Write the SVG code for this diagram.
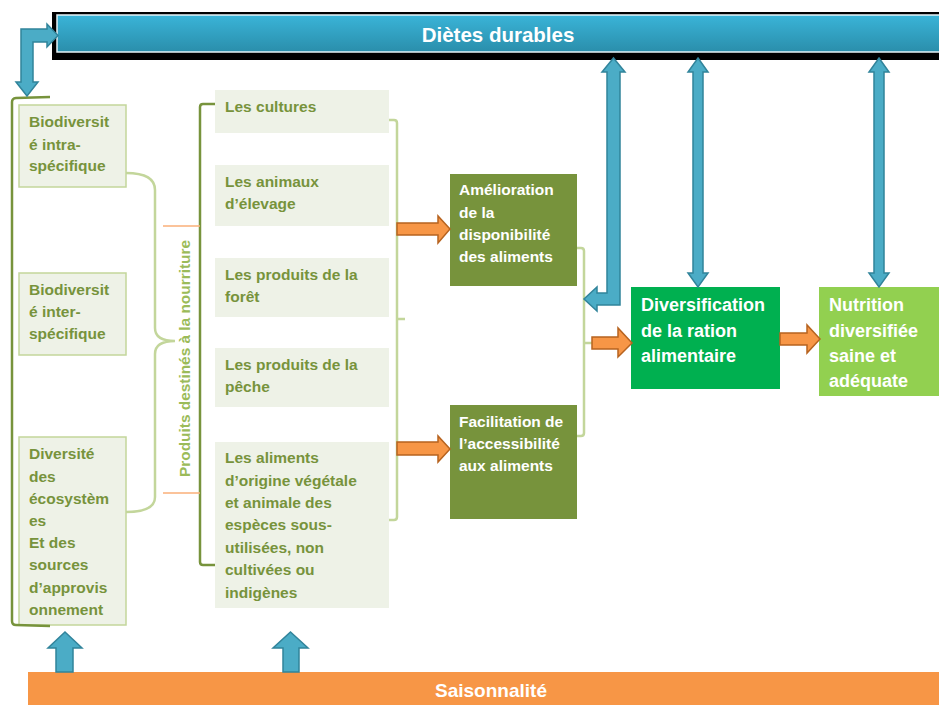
<svg xmlns="http://www.w3.org/2000/svg" width="939" height="705" viewBox="0 0 939 705">
<defs>
<linearGradient id="gBlue" x1="0" y1="0" x2="0" y2="1">
<stop offset="0" stop-color="#3AB4D8"/>
<stop offset="1" stop-color="#2A8EAB"/>
</linearGradient>
<style>
text{font-family:"Liberation Sans",Arial,sans-serif;font-weight:bold}
.gt{fill:#77933C;font-size:15.5px}
.wt{fill:#FFFFFF;font-size:15.5px}
.wl{fill:#FFFFFF;font-size:18px}
.lbox{fill:#EEF2E7;stroke:#C3D69B;stroke-width:1.5}
.mbox{fill:#EEF2E7}
.dbox{fill:#77933C}
.barrow{fill:#4BACC6;stroke:#31849B;stroke-width:1.5;stroke-linejoin:miter}
.oarrow{fill:#F79646;stroke:#B7631F;stroke-width:1.5;stroke-linejoin:miter}
.dbr{fill:none;stroke:#77933C;stroke-width:2.5}
.lbr{fill:none;stroke:#C3D69B;stroke-width:2.5}
.oline{fill:none;stroke:#FAB07A;stroke-width:1.5}
</style>
</defs>
<rect width="939" height="705" fill="#FFFFFF"/>

<g id="dietes">
<rect x="52" y="12" width="892" height="48" fill="#000000"/>
<rect x="57" y="15" width="886" height="37" fill="url(#gBlue)" stroke="#E6F3F7" stroke-width="1.5"/>
<text x="498" y="42" text-anchor="middle" style="fill:#FFFFFF;font-size:20.5px">Diètes durables</text>
</g>

<g id="saisonnalite">
<rect x="28" y="672" width="915" height="36" fill="#F79646"/>
<text x="491" y="697" text-anchor="middle" style="fill:#FFFFFF;font-size:19px">Saisonnalité</text>
</g>

<g id="bio-intra">
<rect class="lbox" x="19" y="105" width="107" height="82"/>
<text class="gt" x="29" y="127">Biodiversit</text>
<text class="gt" x="29" y="149.5">é intra-</text>
<text class="gt" x="29" y="171">spécifique</text>
</g>
<g id="bio-inter">
<rect class="lbox" x="19" y="273" width="107" height="82"/>
<text class="gt" x="29" y="294.5">Biodiversit</text>
<text class="gt" x="29" y="317">é inter-</text>
<text class="gt" x="29" y="339">spécifique</text>
</g>
<g id="diversite-eco">
<rect class="lbox" x="19" y="437" width="107" height="188"/>
<text class="gt" x="29" y="459">Diversité</text>
<text class="gt" x="29" y="481.5">des</text>
<text class="gt" x="29" y="503.5">écosystèm</text>
<text class="gt" x="29" y="525.5">es</text>
<text class="gt" x="29" y="548">Et des</text>
<text class="gt" x="29" y="570">sources</text>
<text class="gt" x="29" y="592.5">d’approvis</text>
<text class="gt" x="29" y="615">onnement</text>
</g>

<g id="produits-label">
<text transform="translate(190,358.5) rotate(-90)" text-anchor="middle" textLength="237" lengthAdjust="spacingAndGlyphs" style="fill:#9BBB59;font-size:15px">Produits destinés à la nourriture</text>
</g>

<g id="cultures">
<rect class="mbox" x="215" y="90" width="174" height="43"/>
<text class="gt" x="225" y="112">Les cultures</text>
</g>
<g id="animaux">
<rect class="mbox" x="215" y="165" width="174" height="61"/>
<text class="gt" x="225" y="187">Les animaux</text>
<text class="gt" x="225" y="209">d’élevage</text>
</g>
<g id="foret">
<rect class="mbox" x="215" y="258" width="174" height="59"/>
<text class="gt" x="225" y="279.5">Les produits de la</text>
<text class="gt" x="225" y="302">forêt</text>
</g>
<g id="peche">
<rect class="mbox" x="215" y="348" width="174" height="59"/>
<text class="gt" x="225" y="370">Les produits de la</text>
<text class="gt" x="225" y="392">pêche</text>
</g>
<g id="aliments-origine">
<rect class="mbox" x="215" y="442" width="174" height="166"/>
<text class="gt" x="225" y="463">Les aliments</text>
<text class="gt" x="225" y="485.5">d’origine végétale</text>
<text class="gt" x="225" y="508">et animale des</text>
<text class="gt" x="225" y="530">espèces sous-</text>
<text class="gt" x="225" y="552.5">utilisées, non</text>
<text class="gt" x="225" y="575">cultivées ou</text>
<text class="gt" x="225" y="597.5">indigènes</text>
</g>

<g id="amelioration">
<rect class="dbox" x="450" y="174" width="127" height="112"/>
<text class="wt" x="459" y="195">Amélioration</text>
<text class="wt" x="459" y="217.5">de la</text>
<text class="wt" x="459" y="240">disponibilité</text>
<text class="wt" x="459" y="262">des aliments</text>
</g>
<g id="facilitation">
<rect class="dbox" x="450" y="405" width="127" height="114"/>
<text class="wt" x="459" y="427">Facilitation de</text>
<text class="wt" x="459" y="449">l’accessibilité</text>
<text class="wt" x="459" y="471">aux aliments</text>
</g>
<g id="diversification">
<rect x="631" y="287" width="149" height="102" fill="#00B050"/>
<text class="wl" x="641" y="311">Diversification</text>
<text class="wl" x="641" y="337">de la ration</text>
<text class="wl" x="641" y="362">alimentaire</text>
</g>
<g id="nutrition">
<rect x="819" y="287" width="124" height="109" fill="#92D050"/>
<text class="wl" x="829" y="311">Nutrition</text>
<text class="wl" x="829" y="337">diversifiée</text>
<text class="wl" x="829" y="362">saine et</text>
<text class="wl" x="829" y="387">adéquate</text>
</g>

<g id="connectors">
<path class="dbr" d="M50,97 L16,98 Q12,98.5 12,102 L12,621 Q12,625 16,625 L50,626"/>
<path class="dbr" d="M215,104 L203,104 Q200,104 200,107 L200,562 Q200,565 203,565 L215,565"/>
<path class="lbr" d="M126,173 Q155,173 155,190 L155,328 Q155,341 175,341 Q155,341 155,354 L155,497 Q155,512 126,512"/>
<path class="lbr" d="M389,120 L394,120 Q397,120 397,123 L397,517 Q397,520 394,520 L389,520 M397,319 L405,319"/>
<path class="lbr" d="M577,248 L581,248 Q584,248 584,251 L584,433 Q584,436 581,436 L577,436 M584,343 L592,343"/>
<path class="oline" d="M163,226 L200,226 M163,493 L200,493"/>

<polygon class="barrow" points="21,29 47,29 47,24 58,35.5 47,47 47,42 33,42 33,82 38,82 27,96 16,82 21,82"/>
<polygon class="barrow" points="613.5,58 625,72 620,72 620,305 597,305 597,311 584,299 597,287 597,293 607,293 607,72 602,72"/>
<polygon class="barrow" points="698,58 708,72 703,72 703,273 708,273 698,287 688,273 693,273 693,72 688,72"/>
<polygon class="barrow" points="879,58 889,72 884,72 884,273 889,273 879,287 869,273 874,273 874,72 869,72"/>
<polygon class="barrow" points="65,632 82,648 73,648 73,672 56,672 56,648 48,648"/>
<polygon class="barrow" points="290.5,632 308,648 299,648 299,672 283,672 283,648 273,648"/>

<polygon class="oarrow" points="397,223 438,223 438,216 450,229 438,243 438,235 397,235"/>
<polygon class="oarrow" points="397,442 438,442 438,436 450,449 438,462 438,455 397,455"/>
<polygon class="oarrow" points="592,337 618,337 618,328 632,343 618,357 618,349 592,349"/>
<polygon class="oarrow" points="780,333 807,333 807,325 820,339 807,353 807,345 780,345"/>
</g>
</svg>
